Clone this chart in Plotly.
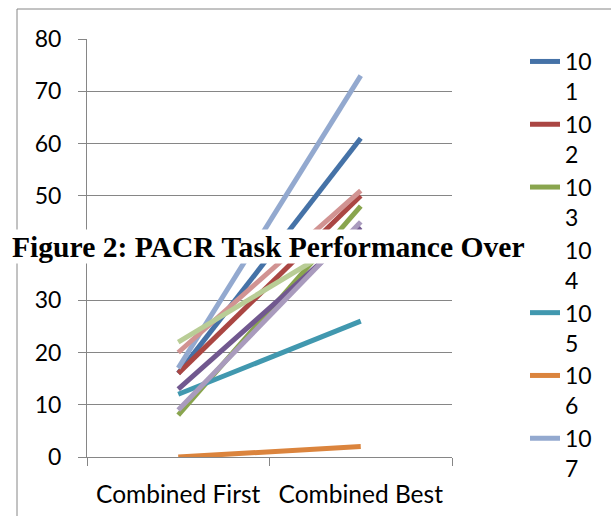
import plotly.graph_objects as go

categories = ["Combined First", "Combined Best"]
series_names = ["101", "102", "103", "104", "105", "106", "107", "108", "109", "110"]
first_vals = [16, 16, 8, 13, 12, 0, 17, 20, 22, 9]
best_vals = [61, 50, 48, 44, 26, 2, 73, 51, 43, 45]
colors = ["#4572A7", "#AA4643", "#89A54E", "#71588F", "#4198AF", "#DB843D",
          "#93A9CF", "#D19392", "#B9CD96", "#A99BBD"]
legend_shown = [True] * 7 + [False] * 3
y_ticks = [0, 10, 20, 30, 40, 50, 60, 70, 80]
title_text = "Figure 2: PACR Task Performance Over"

W, H = 611, 516
ML, MR, MT, MB = 87, 159, 39, 59
PW, PH = W - ML - MR, H - MT - MB

def px_x(p):
    return (p - ML) / PW

def px_y(p):
    return (H - MB - p) / PH

fig = go.Figure()
for i, name in enumerate(series_names):
    fig.add_trace(go.Scatter(
        x=categories, y=[first_vals[i], best_vals[i]],
        mode="lines", name=name[:2] + "<br>" + name[2:],
        line=dict(color=colors[i], width=5),
        showlegend=legend_shown[i], legendgroup=name,
    ))

grid = "#868686"
fig.update_layout(
    width=W, height=H,
    margin=dict(l=ML, r=MR, t=MT, b=MB, pad=0, autoexpand=False),
    paper_bgcolor="white", plot_bgcolor="white",
    font=dict(family="Lato", size=23, color="black"),
    showlegend=True,
    legend=dict(x=px_x(525), y=px_y(40), xanchor="left", yanchor="top",
                valign="top", tracegroupgap=0, font=dict(size=23),
                maxheight=560, bgcolor="rgba(0,0,0,0)"),
    xaxis=dict(type="category", range=[-0.5, 1.5], showgrid=False,
               showline=True, linecolor=grid, linewidth=1,
               ticks="outside", ticklen=8, tickcolor=grid, tickson="boundaries",
               ticklabelstandoff=16, tickfont=dict(size=24.5), zeroline=False),
    yaxis=dict(range=[0, 80], tickvals=y_ticks, showgrid=True, gridcolor=grid,
               gridwidth=1, showline=True, linecolor=grid, linewidth=1,
               ticks="outside", ticklen=8, tickcolor=grid,
               ticklabelstandoff=12, tickfont=dict(size=23), zeroline=False),
)

# outer chart border (clipped by page edges)
fig.add_shape(type="rect", xref="paper", yref="paper",
              x0=px_x(17), x1=px_x(W + 20), y0=px_y(H + 20), y1=px_y(9),
              line=dict(color=grid, width=1), fillcolor="rgba(0,0,0,0)", layer="below")

# title overlay with white background
fig.add_annotation(xref="paper", yref="paper", x=px_x(11), y=px_y(246.5),
                   xanchor="left", yanchor="middle", showarrow=False,
                   text="<b>" + title_text + "</b>", align="left",
                   width=550, height=33, borderpad=0, bgcolor="white",
                   font=dict(family="Liberation Serif", size=29.6, color="black"))

fig.write_html("out.html", config={"displayModeBar": False},
               post_script="document.body.style.margin='0px';")
